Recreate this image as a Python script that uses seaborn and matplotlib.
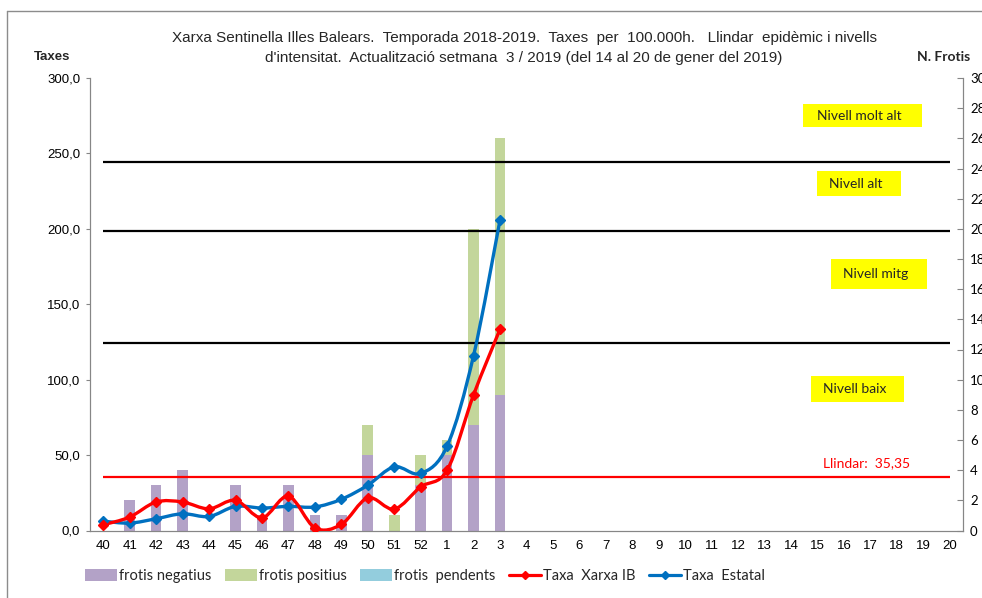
import numpy as np
import pandas as pd
import seaborn as sns
import matplotlib
matplotlib.use("Agg")
import matplotlib.pyplot as plt
from matplotlib.path import Path
from matplotlib.patches import PathPatch, Patch, Rectangle
from matplotlib.lines import Line2D
from matplotlib import font_manager as fm

# ---------------- data ----------------
weeks = ["40", "41", "42", "43", "44", "45", "46", "47", "48", "49", "50", "51", "52",
         "1", "2", "3", "4", "5", "6", "7", "8", "9", "10", "11", "12", "13", "14",
         "15", "16", "17", "18", "19", "20"]
data_weeks = weeks[:16]
frotis_negatius = [0, 2, 3, 4, 0, 3, 1, 3, 1, 1, 5, 0, 3, 5, 7, 9]
frotis_positius = [0, 0, 0, 0, 0, 0, 0, 0, 0, 0, 2, 1, 2, 1, 13, 17]
frotis_pendents = [0, 0, 0, 0, 0, 0, 0, 0, 0, 0, 0, 0, 0, 0, 0, 0]
taxa_xarxa_ib = [3.8, 8.9, 18.9, 18.9, 14.4, 20.0, 8.4, 22.7, 1.8, 4.0, 21.6, 14.2, 28.9, 40.0, 90.0, 133.5]
taxa_estatal = [6.2, 4.9, 7.8, 11.1, 9.3, 16.0, 14.9, 16.0, 15.6, 20.7, 30.0, 42.2, 37.8, 56.0, 116.0, 206.0]
llindar = 35.35
nivells = [124.3, 198.7, 244.0]
left_ticks = [0, 50, 100, 150, 200, 250, 300]
right_ticks = list(range(0, 31, 2))
title_lines = ["Xarxa Sentinella Illes Balears.  Temporada 2018-2019.  Taxes  per  100.000h.   Llindar  epidèmic i nivells",
               "d'intensitat.  Actualització setmana  3 / 2019 (del 14 al 20 de gener del 2019)"]

# ---------------- style ----------------
sns.set_theme(style="white")
names = {f.name for f in fm.fontManager.ttflist}
narrow = "Liberation Sans Narrow" if "Liberation Sans Narrow" in names else "Liberation Sans"
plt.rcParams["font.family"] = ["Liberation Sans", "DejaVu Sans"]
CAL = ["Lato", "DejaVu Sans"]

PURPLE = "#B3A2C7"
GREEN = "#C3D69B"
LBLUE = "#93CDDD"
RED = "#FF0000"
BLUE = "#0070C0"
GRAY = "#868686"

W, H = 982, 598
fig = plt.figure(figsize=(W / 100, H / 100), dpi=100)
fig.patch.set_facecolor("white")

def fx(px):
    return px / W

def fy(py):
    return 1 - py / H

ax = fig.add_axes([fx(90), fy(530.5), fx(963) - fx(90), fy(78) - fy(530.5)])
ax2 = ax.twinx()

# ---------------- bars (right axis) ----------------
df = pd.DataFrame({"week": data_weeks,
                   "neg": frotis_negatius,
                   "pos": frotis_positius,
                   "pend": frotis_pendents})
df["neg_pos"] = df["neg"] + df["pos"]
df["total"] = df["neg_pos"] + df["pend"]

for col, colr in [("total", LBLUE), ("neg_pos", GREEN), ("neg", PURPLE)]:
    sns.barplot(data=df, x="week", y=col, order=weeks, color=colr, width=0.4,
                saturation=1, linewidth=0, ax=ax2, errorbar=None)

ax2.set_ylim(0, 30)
ax2.set_yticks(right_ticks)
ax2.set_yticklabels([str(t) for t in right_ticks])
ax2.set_ylabel("")
ax2.set_xlabel("")

# ---------------- lines (left axis) ----------------
ax.set_zorder(ax2.get_zorder() + 1)
ax.patch.set_visible(False)

xpos = np.arange(len(data_weeks))

def smooth_path(xs, ys):
    pts = np.column_stack([xs, ys]).astype(float)
    n = len(pts)
    verts = [pts[0]]
    codes = [Path.MOVETO]
    for i in range(n - 1):
        p0 = pts[i - 1] if i > 0 else pts[i]
        p1 = pts[i]
        p2 = pts[i + 1]
        p3 = pts[i + 2] if i + 2 < n else pts[i + 1]
        c1 = p1 + (p2 - p0) / 6.0
        c2 = p2 - (p3 - p1) / 6.0
        verts += [c1, c2, p2]
        codes += [Path.CURVE4] * 3
    return Path(verts, codes)

# threshold lines
ax.hlines(llindar, 0, len(weeks) - 1, color=RED, lw=1.6, zorder=2)
for v in nivells:
    ax.hlines(v, 0, len(weeks) - 1, color="black", lw=1.6, zorder=2)

for ys, colr in [(taxa_estatal, BLUE), (taxa_xarxa_ib, RED)]:
    ax.add_patch(PathPatch(smooth_path(xpos, ys), facecolor="none", edgecolor=colr,
                           lw=2.4, zorder=4, capstyle="round", joinstyle="round"))
    ax.plot(xpos, ys, linestyle="none", marker="D", markersize=4.8, color=colr, zorder=5)

ax.set_xlim(-0.5, len(weeks) - 0.5)
ax2.set_xlim(-0.5, len(weeks) - 0.5)
ax.set_ylim(0, 300)
ax.set_yticks(left_ticks)
ax.set_yticklabels([f"{t:.1f}".replace(".", ",") for t in left_ticks])
ax.set_xticks(np.arange(len(weeks)))
ax.set_xticklabels(weeks)
ax.set_xticks(np.arange(len(weeks) + 1) - 0.5, minor=True)

# ---------------- axes styling ----------------
for a in (ax, ax2):
    for s in a.spines.values():
        s.set_color(GRAY)
        s.set_linewidth(0.8)
    a.spines["top"].set_visible(False)
    a.grid(False)

ax.tick_params(axis="x", which="major", length=0, pad=7, labelsize=9.5, colors="black")
ax.tick_params(axis="x", which="minor", length=4, width=0.8, color=GRAY, direction="out")
ax.tick_params(axis="y", which="major", length=3, width=0.8, color=GRAY, direction="out",
               pad=4, labelsize=9.5, labelcolor="black")
ax2.tick_params(axis="x", which="both", length=0, labelbottom=False)
ax2.tick_params(axis="y", which="major", length=4, width=0.8, color=GRAY, direction="in",
                pad=5, labelsize=9.5, labelcolor="black")
for lab in ax2.get_yticklabels():
    lab.set_fontfamily(CAL)

# ---------------- texts ----------------
fig.text(fx(524), fy(38), title_lines[0], ha="center", va="center", fontsize=11,
         family=[narrow, "DejaVu Sans"])
fig.text(fx(524), fy(58), title_lines[1], ha="center", va="center", fontsize=11,
         family=[narrow, "DejaVu Sans"])
fig.text(fx(52), fy(57), "Taxes", ha="center", va="center", fontsize=9.5, fontweight="bold")
fig.text(fx(944), fy(57), "N. Frotis", ha="center", va="center", fontsize=10,
         fontweight="bold", family=CAL)

boxes = [("Nivell molt alt", 803, 104, 922, 127),
         ("Nivell alt", 817, 171, 901, 196),
         ("Nivell mitg", 831, 259, 927, 289),
         ("Nivell baix", 811, 376, 904, 402)]
for txt, x0, y0, x1, y1 in boxes:
    fig.patches.append(Rectangle((fx(x0), fy(y1)), fx(x1) - fx(x0), fy(y0) - fy(y1),
                                 transform=fig.transFigure, facecolor="#FFFF00",
                                 edgecolor="none", zorder=3))
    fig.text(fx((x0 + x1) / 2 - 3), fy((y0 + y1) / 2), txt, ha="center", va="center",
             fontsize=10, family=CAL, zorder=4)

fig.text(fx(867), fy(463), f"Llindar:  {llindar:.2f}".replace(".", ","), ha="center",
         va="center", fontsize=10, color=RED, family=CAL)

# outer frame
fig.add_artist(Line2D([fx(7), fx(7)], [fy(11), 0], transform=fig.transFigure, color="#8C8C8C", lw=1))
fig.add_artist(Line2D([fx(7), 1], [fy(11), fy(11)], transform=fig.transFigure, color="#8C8C8C", lw=1))

# ---------------- legend ----------------
handles = [Patch(facecolor=PURPLE, edgecolor="none"),
           Patch(facecolor=GREEN, edgecolor="none"),
           Patch(facecolor=LBLUE, edgecolor="none"),
           Line2D([], [], color=RED, lw=2.3, marker="D", markersize=4),
           Line2D([], [], color=BLUE, lw=2.3, marker="D", markersize=4)]
labels = ["frotis negatius", "frotis positius", "frotis  pendents", "Taxa  Xarxa IB", "Taxa  Estatal"]
fig.legend(handles, labels, loc="center", bbox_to_anchor=(fx(425), fy(576)), ncol=5,
           frameon=False, prop={"family": CAL, "size": 10.5}, handlelength=2.2,
           handleheight=0.8, handletextpad=0.15, columnspacing=0.9)

fig.savefig("out.png", dpi=100)
